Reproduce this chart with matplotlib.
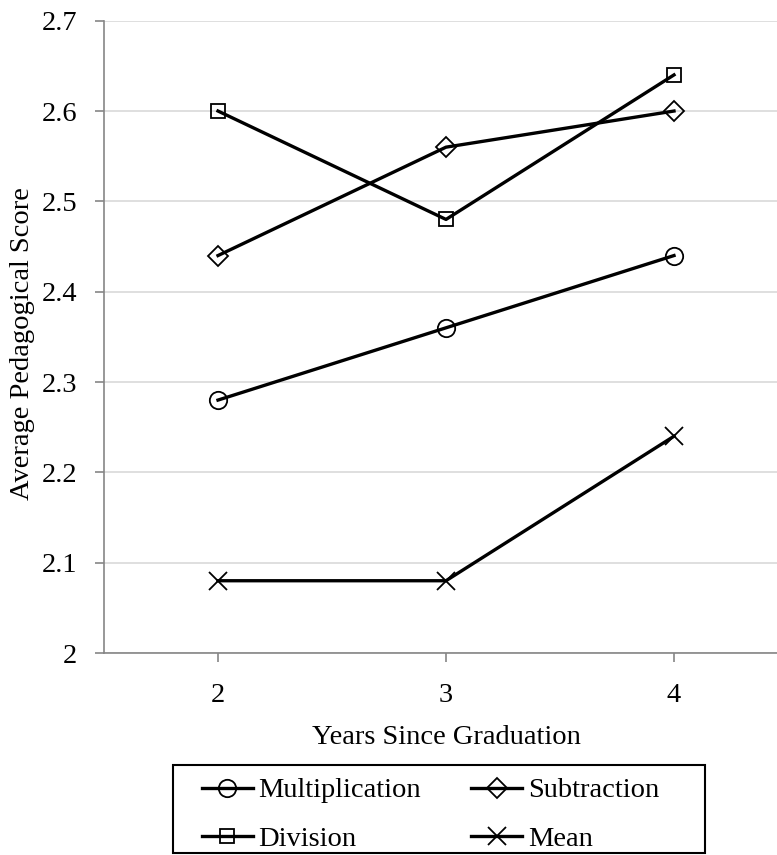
import matplotlib

matplotlib.use("Agg")
import matplotlib.pyplot as plt
from matplotlib.patches import Rectangle
from matplotlib.ticker import FuncFormatter

plt.rcParams["font.family"] = ["Liberation Serif", "DejaVu Serif"]

# data
years = [2, 3, 4]
multiplication = [2.28, 2.36, 2.44]
subtraction = [2.44, 2.56, 2.60]
division = [2.60, 2.48, 2.64]
mean_score = [2.08, 2.08, 2.24]
y_ticks = [2.0, 2.1, 2.2, 2.3, 2.4, 2.5, 2.6, 2.7]

W, H = 777, 855
fig = plt.figure(figsize=(W / 100, H / 100), dpi=100)
ax = fig.add_axes([104 / W, 1 - 653 / H, 684 / W, (653 - 20.7) / H])

FS = 20.5
line_kw = dict(color="black", lw=2.4, mfc="none", mec="black", mew=1.3)
l_mul, = ax.plot(years, multiplication, marker="o", ms=12.5, label="Multiplication", **line_kw)
l_sub, = ax.plot(years, subtraction, marker="D", ms=10.5, label="Subtraction", **line_kw)
l_div, = ax.plot(years, division, marker="s", ms=10.5, label="Division", **line_kw)
l_mean, = ax.plot(years, mean_score, marker="x", ms=12.5, label="Mean", **line_kw)

ax.set_xlim(1.5, 4.5)
ax.set_ylim(2.0, 2.7)
ax.set_xticks(years)
ax.set_yticks(y_ticks)
ax.yaxis.set_major_formatter(FuncFormatter(lambda v, p: f"{v:g}"))
ax.grid(axis="y", color="#d9d9d9", lw=1.2)
ax.set_axisbelow(True)

for side in ("top", "right"):
    ax.spines[side].set_visible(False)
for side in ("left", "bottom"):
    ax.spines[side].set_color("#868686")
    ax.spines[side].set_linewidth(1.2)

ax.tick_params(axis="both", direction="out", length=6.5, width=1.2,
               color="#868686", labelsize=FS, labelcolor="black")
ax.tick_params(axis="y", pad=13)
ax.tick_params(axis="x", pad=15)

fig.text(23 / W, 1 - 344 / H, "Average Pedagogical Score", rotation=90,
         ha="center", va="center", fontsize=FS)
fig.text(446 / W, 1 - 737 / H, "Years Since Graduation",
         ha="center", va="center", fontsize=FS)

# legend is filled column-wise, so order handles to read row-wise like the reference
handles = [l_mul, l_div, l_sub, l_mean]
fig.legend(handles, [h.get_label() for h in handles],
           loc="upper left", bbox_to_anchor=(193 / W, 1 - 769 / H),
           ncol=2, fontsize=FS, frameon=False, handlelength=1.8,
           handletextpad=0.2, columnspacing=1.75, labelspacing=0.78,
           borderpad=0.3, borderaxespad=0)
fig.add_artist(Rectangle((173 / W, 1 - 853 / H), (705 - 173) / W, (853 - 765) / H,
                         transform=fig.transFigure, fill=False,
                         edgecolor="black", lw=1.5))

fig.savefig("out.png", dpi=100)
